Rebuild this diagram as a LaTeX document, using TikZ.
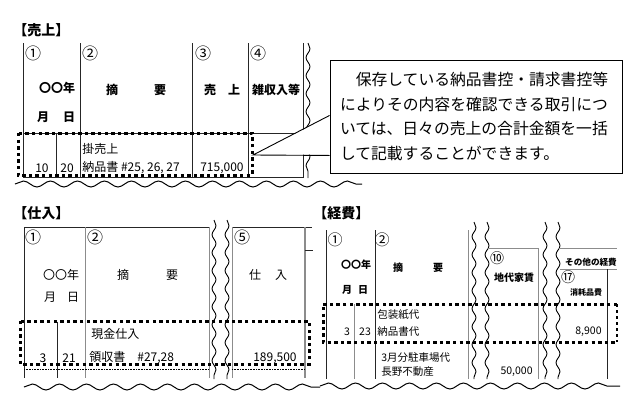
\documentclass[tikz,border=0pt]{standalone}
\usepackage{fontspec}
\setmainfont{Noto Sans CJK JP}
\usetikzlibrary{decorations.pathmorphing}

\begin{document}
\begin{tikzpicture}[x=1pt, y=-1pt, line width=0.8pt, inner sep=0pt]
\tikzstyle{rule}=[draw=black!85, line width=0.9pt]
\tikzstyle{grayrule}=[draw=black!45, line width=0.9pt]
\tikzstyle{dotbox}=[draw=black, line width=3pt, dash pattern=on 3.4pt off 3.2pt]
\tikzstyle{hwave}=[draw=black, line width=1pt, decorate, decoration={snake, segment length=27pt, amplitude=3pt}]
\tikzstyle{vwave}=[draw=black, line width=0.9pt, decorate, decoration={snake, segment length=18pt, amplitude=2pt}]
\tikzstyle{title}=[anchor=west, font=\fontsize{14}{16}\selectfont\bfseries]
\tikzstyle{head}=[font=\fontsize{12}{14}\selectfont\bfseries]
\tikzstyle{thinhead}=[font=\fontsize{12}{14}\selectfont]
\tikzstyle{num}=[font=\fontsize{16}{18}\selectfont]
\tikzstyle{smallnum}=[font=\fontsize{15}{17}\selectfont]
\tikzstyle{cell}=[font=\fontsize{12}{14}\selectfont]
\tikzstyle{smallhead}=[font=\fontsize{10}{12}\selectfont\bfseries]
\tikzstyle{smallcell}=[font=\fontsize{10.5}{12}\selectfont]
\useasboundingbox (0,0) rectangle (640,413);
\fill[white] (0,0) rectangle (640,413);

% sales
\node[title] (salestitle) at (13,30) {【売上】};
\foreach \x in {23,80,192,248,303} \draw[rule] (\x,43) -- (\x,178);
\draw[rule] (56,133) -- (56,178);
\draw[rule] (23,133) -- (303,133);
\draw[rule] (23,177) -- (303,177);
\draw[vwave] (308,43) -- (308,178);
\draw[dotbox] (18,133) rectangle (252,175);
\draw[hwave] (15,184) -- (362,184);
\node[num] (s1) at (33,53) {①};
\node[num] (s2) at (90,53) {②};
\node[num] (s3) at (203,53) {③};
\node[num] (s4) at (258,53) {④};
\node[head] (syear) at (57,88) {〇〇年};
\node[head] (smonth) at (43,117) {月};
\node[head] (sday) at (69,117) {日};
\node[head] (sdesc1) at (112,90) {摘};
\node[head] (sdesc2) at (160,90) {要};
\node[head] (samt1) at (210,90) {売};
\node[head] (samt2) at (234,90) {上};
\node[head] (sother) at (276,90) {雑収入等};
\node[cell] (sm) at (42,168) {10};
\node[cell] (sd) at (67,168) {20};
\node[cell, anchor=west] (sitem) at (82,149) {掛売上};
\node[cell, anchor=west] (sslip) at (82,168) {納品書 \#25, 26, 27};
\node[cell, anchor=east] (sval) at (244,168) {715,000};

% callout
\node[draw, line width=0.9pt, fill=white, minimum width=292pt, minimum height=113pt,
  text width=272pt, align=left, inner sep=10pt, font=\fontsize{15.8}{24.5}\selectfont] (note) at (476,116.5)
  {\hspace*{1em}保存している納品書控・請求書控等\\によりその内容を確認できる取引につ\\いては、日々の売上の合計金額を一括\\して記載することができます。};
\coordinate (tip) at (253,155);
\fill[white] ([yshift=57pt]note.south west) -- (tip) -- ([yshift=19pt]note.south west) -- cycle;
\draw[line width=0.9pt] ([yshift=58pt]note.south west) -- (tip) -- ([yshift=18pt]note.south west);

% purchases
\node[title] (buytitle) at (13,213) {【仕入】};
\draw[rule] (24,227) -- (209,227);
\draw[rule] (232,227) -- (312,227);
\draw[rule] (24,227) -- (24,378);
\draw[grayrule] (85,227) -- (85,378);
\draw[grayrule, line width=0.6pt] (209,227) -- (209,378);
\draw[grayrule, line width=0.6pt] (232,227) -- (232,378);
\draw[grayrule, line width=2pt] (305,227) -- (305,378);
\draw[rule] (305,250) -- (313,250);
\draw[rule] (57,322) -- (57,378);
\draw[vwave] (214,220) -- (214,379);
\draw[vwave] (227,220) -- (227,379);
\draw[densely dotted, line width=0.6pt] (24,369) -- (209,369);
\draw[densely dotted, line width=0.6pt] (232,369) -- (305,369);
\draw[dotbox] (20,321) rectangle (309,364);
\draw[hwave] (24,387) -- (320,387);
\node[num] (b1) at (33,237) {①};
\node[num] (b2) at (95,237) {②};
\node[num] (b5) at (242,237) {⑤};
\node[thinhead] (byear) at (61,275) {〇〇年};
\node[thinhead] (bmonth) at (50,297) {月};
\node[thinhead] (bday) at (73,297) {日};
\node[thinhead] (bdesc1) at (123,275) {摘};
\node[thinhead] (bdesc2) at (172,275) {要};
\node[thinhead] (bamt1) at (255,275) {仕};
\node[thinhead] (bamt2) at (281,275) {入};
\node[cell, anchor=west] (bitem) at (91,334) {現金仕入};
\node[cell] (bm) at (43,358) {3};
\node[cell] (bd) at (69,358) {21};
\node[cell, anchor=west] (bslip) at (89,358) {領収書　\#27,28};
\node[cell, anchor=east] (bval) at (297,358) {189,500};

% expenses
\node[title] (costtitle) at (313,213) {【経費】};
\draw[rule] (326,230) -- (326,379);
\draw[rule] (375,230) -- (375,379);
\draw[grayrule] (468,230) -- (468,379);
\draw[grayrule] (354,304) -- (354,379);
\foreach \x in {474,487,545,558} \draw[vwave] (\x,222) -- (\x,379);
\draw[grayrule] (487,248) -- (538,248);
\draw[grayrule] (538,248) -- (538,379);
\draw[grayrule] (558,248) -- (617,248);
\draw[grayrule] (560,269) -- (617,269);
\draw[rule] (607,269) -- (607,379);
\draw[dotbox] (617,304) -- (323,304) -- (323,342) -- (617,342);
\draw[line width=1.4pt, dashed] (617,304) -- (617,342);
\draw[hwave] (320,386) -- (620,386);
\node[smallnum] (c1) at (335,240) {①};
\node[smallnum] (c2) at (382,240) {②};
\node[smallhead] (cyear) at (356,265) {〇〇年};
\node[smallhead] (cmonth) at (347,290) {月};
\node[smallhead] (cday) at (363,290) {日};
\node[smallhead] (cdesc1) at (398,268) {摘};
\node[smallhead] (cdesc2) at (438,268) {要};
\node[smallnum, font=\fontsize{14}{16}\selectfont] (c10) at (497,258) {⑩};
\node[smallhead] (crent) at (514,278) {地代家賃};
\node[smallhead, font=\fontsize{8.6}{10}\selectfont\bfseries] (cother) at (591,262) {その他の経費};
\node[smallnum, font=\fontsize{14}{16}\selectfont] (c17) at (568,277) {⑰};
\node[smallhead, font=\fontsize{8}{10}\selectfont\bfseries] (csupply) at (586,292) {消耗品費};
\node[smallcell, anchor=west] (citem) at (377,315) {包装紙代};
\node[smallcell] (cm) at (347,332) {3};
\node[smallcell] (cd) at (365,332) {23};
\node[smallcell, anchor=west] (cslip) at (377,332) {納品書代};
\node[smallcell, anchor=west] (cpark) at (381,358) {3月分駐車場代};
\node[smallcell, anchor=west] (cowner) at (381,372) {長野不動産};
\node[smallcell, anchor=east] (crentval) at (533,372) {50,000};
\node[smallcell, anchor=east] (csupplyval) at (602,332) {8,900};
\end{tikzpicture}
\end{document}
